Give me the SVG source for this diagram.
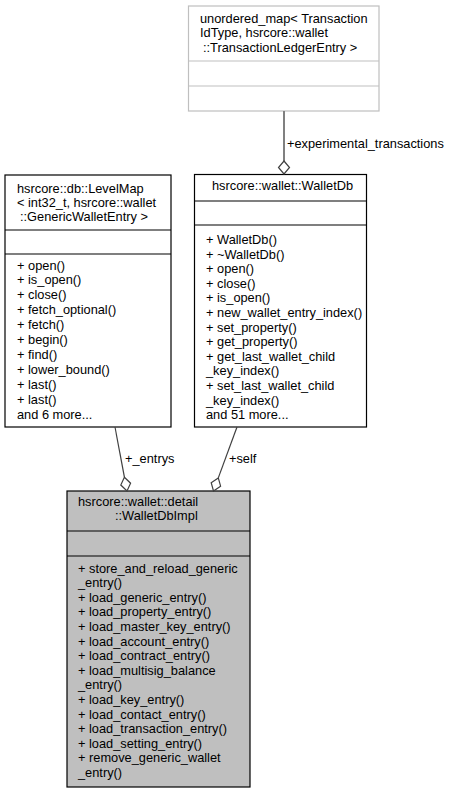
<svg xmlns="http://www.w3.org/2000/svg" width="455" height="793" viewBox="0 0 455 793">
<style>
text{font-family:"Liberation Sans",Arial,sans-serif;font-size:12.8px;fill:#000}
.box{fill:#fff;stroke:#000;stroke-width:1.2}
.sep{stroke:#000;stroke-width:1.2}
.gbox{fill:#fff;stroke:#bfbfbf;stroke-width:1.2}
.gsep{stroke:#bfbfbf;stroke-width:1.2}
.main{fill:#bfbfbf;stroke:#000;stroke-width:1.2}
.edge{stroke:#404040;stroke-width:1.2;fill:none}
.gedge{stroke:#808080;stroke-width:2;fill:none}
.dia{fill:#fff;stroke:#404040;stroke-width:1.2}
</style>
<rect width="455" height="793" fill="#fff"/>
<g id="node_map">
<rect class="gbox" x="188.5" y="6" width="190.5" height="105"/>
<line class="gsep" x1="188.5" y1="61" x2="379" y2="61"/>
<line class="gsep" x1="188.5" y1="86" x2="379" y2="86"/>
<text x="200" y="22.5">unordered_map&lt; Transaction</text>
<text x="200" y="37">IdType, hsrcore::wallet</text>
<text x="203" y="51.5">::TransactionLedgerEntry &gt;</text>
</g>
<g id="node_levelmap">
<rect class="box" x="5" y="175" width="166" height="252"/>
<line class="sep" x1="5" y1="230" x2="171" y2="230"/>
<line class="sep" x1="5" y1="254" x2="171" y2="254"/>
<text x="17" y="192.5">hsrcore::db::LevelMap</text>
<text x="17" y="206.5">&lt; int32_t, hsrcore::wallet</text>
<text x="20" y="220.5">::GenericWalletEntry &gt;</text>
<text x="17" y="269.5">+ open()</text>
<text x="17" y="284.4">+ is_open()</text>
<text x="17" y="299.3">+ close()</text>
<text x="17" y="314.2">+ fetch_optional()</text>
<text x="17" y="329.1">+ fetch()</text>
<text x="17" y="344">+ begin()</text>
<text x="17" y="358.9">+ find()</text>
<text x="17" y="373.8">+ lower_bound()</text>
<text x="17" y="388.7">+ last()</text>
<text x="17" y="403.6">+ last()</text>
<text x="17" y="418.5">and 6 more...</text>
</g>
<g id="node_walletdb">
<rect class="box" x="194.5" y="174.5" width="172" height="252.5"/>
<line class="sep" x1="194.5" y1="201" x2="366.5" y2="201"/>
<line class="sep" x1="194.5" y1="225" x2="366.5" y2="225"/>
<text x="212" y="190">hsrcore::wallet::WalletDb</text>
<text x="206" y="244">+ WalletDb()</text>
<text x="206" y="258.6">+ ~WalletDb()</text>
<text x="206" y="273.2">+ open()</text>
<text x="206" y="287.8">+ close()</text>
<text x="206" y="302.4">+ is_open()</text>
<text x="206" y="317">+ new_wallet_entry_index()</text>
<text x="206" y="331.6">+ set_property()</text>
<text x="206" y="346.2">+ get_property()</text>
<text x="206" y="360.8">+ get_last_wallet_child</text>
<text x="206" y="375.4">_key_index()</text>
<text x="206" y="390">+ set_last_wallet_child</text>
<text x="206" y="404.6">_key_index()</text>
<text x="206" y="419.2">and 51 more...</text>
</g>
<g id="node_impl">
<rect class="main" x="67" y="491" width="183" height="296"/>
<line class="sep" x1="67" y1="531" x2="250" y2="531"/>
<line class="sep" x1="67" y1="556" x2="250" y2="556"/>
<text x="78" y="505.5">hsrcore::wallet::detail</text>
<text x="115" y="520">::WalletDbImpl</text>
<text x="78" y="572.5">+ store_and_reload_generic</text>
<text x="78" y="587.1">_entry()</text>
<text x="78" y="601.7">+ load_generic_entry()</text>
<text x="78" y="616.3">+ load_property_entry()</text>
<text x="78" y="630.9">+ load_master_key_entry()</text>
<text x="78" y="645.5">+ load_account_entry()</text>
<text x="78" y="660.1">+ load_contract_entry()</text>
<text x="78" y="674.7">+ load_multisig_balance</text>
<text x="78" y="689.3">_entry()</text>
<text x="78" y="703.9">+ load_key_entry()</text>
<text x="78" y="718.5">+ load_contact_entry()</text>
<text x="78" y="733.1">+ load_transaction_entry()</text>
<text x="78" y="747.7">+ load_setting_entry()</text>
<text x="78" y="762.3">+ remove_generic_wallet</text>
<text x="78" y="776.9">_entry()</text>
</g>
<g id="connectors">
<line class="gedge" x1="284" y1="111" x2="284" y2="161"/>
<polygon class="dia" points="284,161 289.5,167.5 284,174 278.5,167.5"/>
<text x="287" y="148">+experimental_transactions</text>
<line class="edge" x1="115" y1="427" x2="124.4" y2="477.2"/>
<polygon class="dia" points="124.4,477.2 130.6,483.2 127,491 120.8,485"/>
<text x="125" y="463">+_entrys</text>
<line class="edge" x1="237" y1="427" x2="218.3" y2="477.9"/>
<polygon class="dia" points="218.3,477.9 220.6,486.2 213.5,491 211.2,482.7"/>
<text x="229" y="463">+self</text>
</g>
</svg>
